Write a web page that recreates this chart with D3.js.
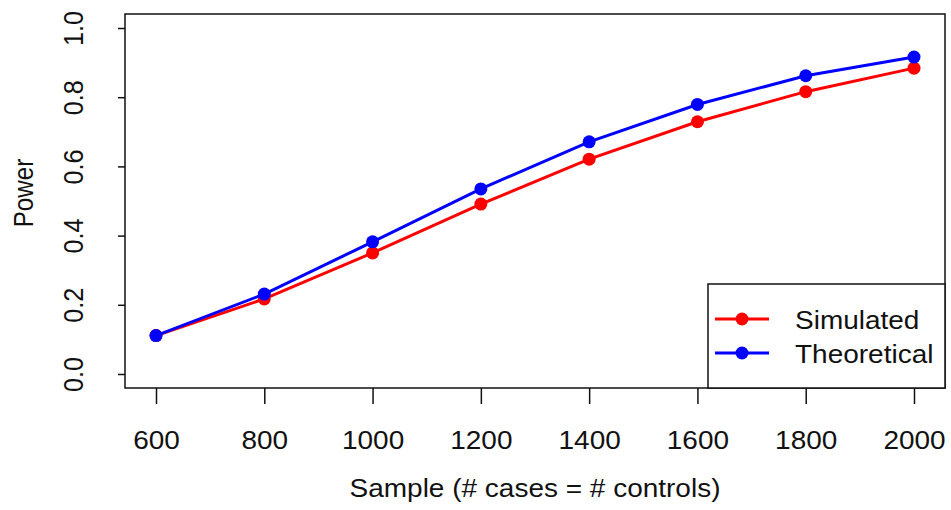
<!DOCTYPE html>
<html>
<head>
<meta charset="utf-8">
<script src="https://cdn.jsdelivr.net/npm/d3@7"></script>
<style>
  html, body { margin: 0; padding: 0; background: #fff; }
  text { font-family: "Liberation Sans", Arial, sans-serif; fill: #111; }
</style>
</head>
<body>
<svg id="chart" width="951" height="510"></svg>
<script>
const samples = [600, 800, 1000, 1200, 1400, 1600, 1800, 2000];
const simulated = [0.111, 0.217, 0.350, 0.491, 0.621, 0.729, 0.816, 0.884];
const theoretical = [0.111, 0.231, 0.382, 0.535, 0.671, 0.779, 0.862, 0.916];
const xTicks = [600, 800, 1000, 1200, 1400, 1600, 1800, 2000];
const yTicks = [0.0, 0.2, 0.4, 0.6, 0.8, 1.0];
const seriesNames = ["Simulated", "Theoretical"];
const seriesColors = ["#ff0000", "#0000ff"];

const svg = d3.select("#chart");
const box = {left: 125, right: 945, top: 14, bottom: 388};
const x = d3.scaleLinear().domain([600, 2000]).range([156, 914]);
const y = d3.scaleLinear().domain([0, 1]).range([374, 28]);
const fs = 26, sx = 1.077;

// plot box
svg.append("rect").attr("x", box.left).attr("y", box.top)
  .attr("width", box.right - box.left).attr("height", box.bottom - box.top)
  .attr("fill", "none").attr("stroke", "#111").attr("stroke-width", 1.5);

// x axis
const xAxis = svg.append("g").attr("transform", `translate(0,${box.bottom})`)
  .call(d3.axisBottom(x).tickValues(xTicks).tickSize(16).tickSizeOuter(0).tickFormat(d3.format("d")));
xAxis.select(".domain").remove();
xAxis.selectAll(".tick line").attr("stroke", "#111").attr("stroke-width", 1.5);
xAxis.selectAll(".tick text").remove();
xAxis.selectAll(".tick").append("text")
  .attr("transform", `translate(0,61) scale(${sx},1)`)
  .attr("text-anchor", "middle").attr("font-size", fs).style("fill", "#111")
  .text(d => d3.format("d")(d));

// y axis
const yAxis = svg.append("g").attr("transform", `translate(${box.left},0)`)
  .call(d3.axisLeft(y).tickValues(yTicks).tickSize(7).tickSizeOuter(0));
yAxis.select(".domain").remove();
yAxis.selectAll(".tick line").attr("stroke", "#111").attr("stroke-width", 1.5);
yAxis.selectAll(".tick text").remove();
yAxis.selectAll(".tick").append("text")
  .attr("transform", `translate(-42,0) rotate(-90) scale(0.97,${sx})`)
  .attr("text-anchor", "middle").attr("font-size", fs).style("fill", "#111")
  .text(d => d3.format(".1f")(d));

// axis titles
svg.append("text").attr("transform", `translate(535,497) scale(${sx},1)`)
  .attr("text-anchor", "middle").attr("font-size", fs)
  .text("Sample (# cases = # controls)");
svg.append("text").attr("transform", `translate(33,193) rotate(-90) scale(0.93,${sx})`)
  .attr("text-anchor", "middle").attr("font-size", fs)
  .text("Power");

// series
const line = d3.line().x(d => x(d[0])).y(d => y(d[1]));
[simulated, theoretical].forEach((vals, i) => {
  const pts = samples.map((s, j) => [s, vals[j]]);
  const g = svg.append("g");
  g.append("path").datum(pts).attr("d", line).attr("fill", "none")
    .attr("stroke", seriesColors[i]).attr("stroke-width", 3);
  g.selectAll("circle").data(pts).join("circle")
    .attr("cx", d => x(d[0])).attr("cy", d => y(d[1])).attr("r", 6.5)
    .attr("fill", seriesColors[i]);
});

// legend
const lg = svg.append("g");
lg.append("rect").attr("x", 708).attr("y", 284).attr("width", 945 - 708).attr("height", 388 - 284)
  .attr("fill", "#fff").attr("stroke", "#111").attr("stroke-width", 1.5);
const legendY = d3.scalePoint().domain(seriesNames).range([319, 353]);
seriesNames.forEach((name, i) => {
  const yy = legendY(name);
  lg.append("line").attr("x1", 715).attr("x2", 769).attr("y1", yy).attr("y2", yy)
    .attr("stroke", seriesColors[i]).attr("stroke-width", 3);
  lg.append("circle").attr("cx", 742).attr("cy", yy).attr("r", 6.5).attr("fill", seriesColors[i]);
  lg.append("text").attr("transform", `translate(795,${yy + 9.5}) scale(${sx},1)`)
    .attr("font-size", fs).text(name);
});
</script>
</body>
</html>
